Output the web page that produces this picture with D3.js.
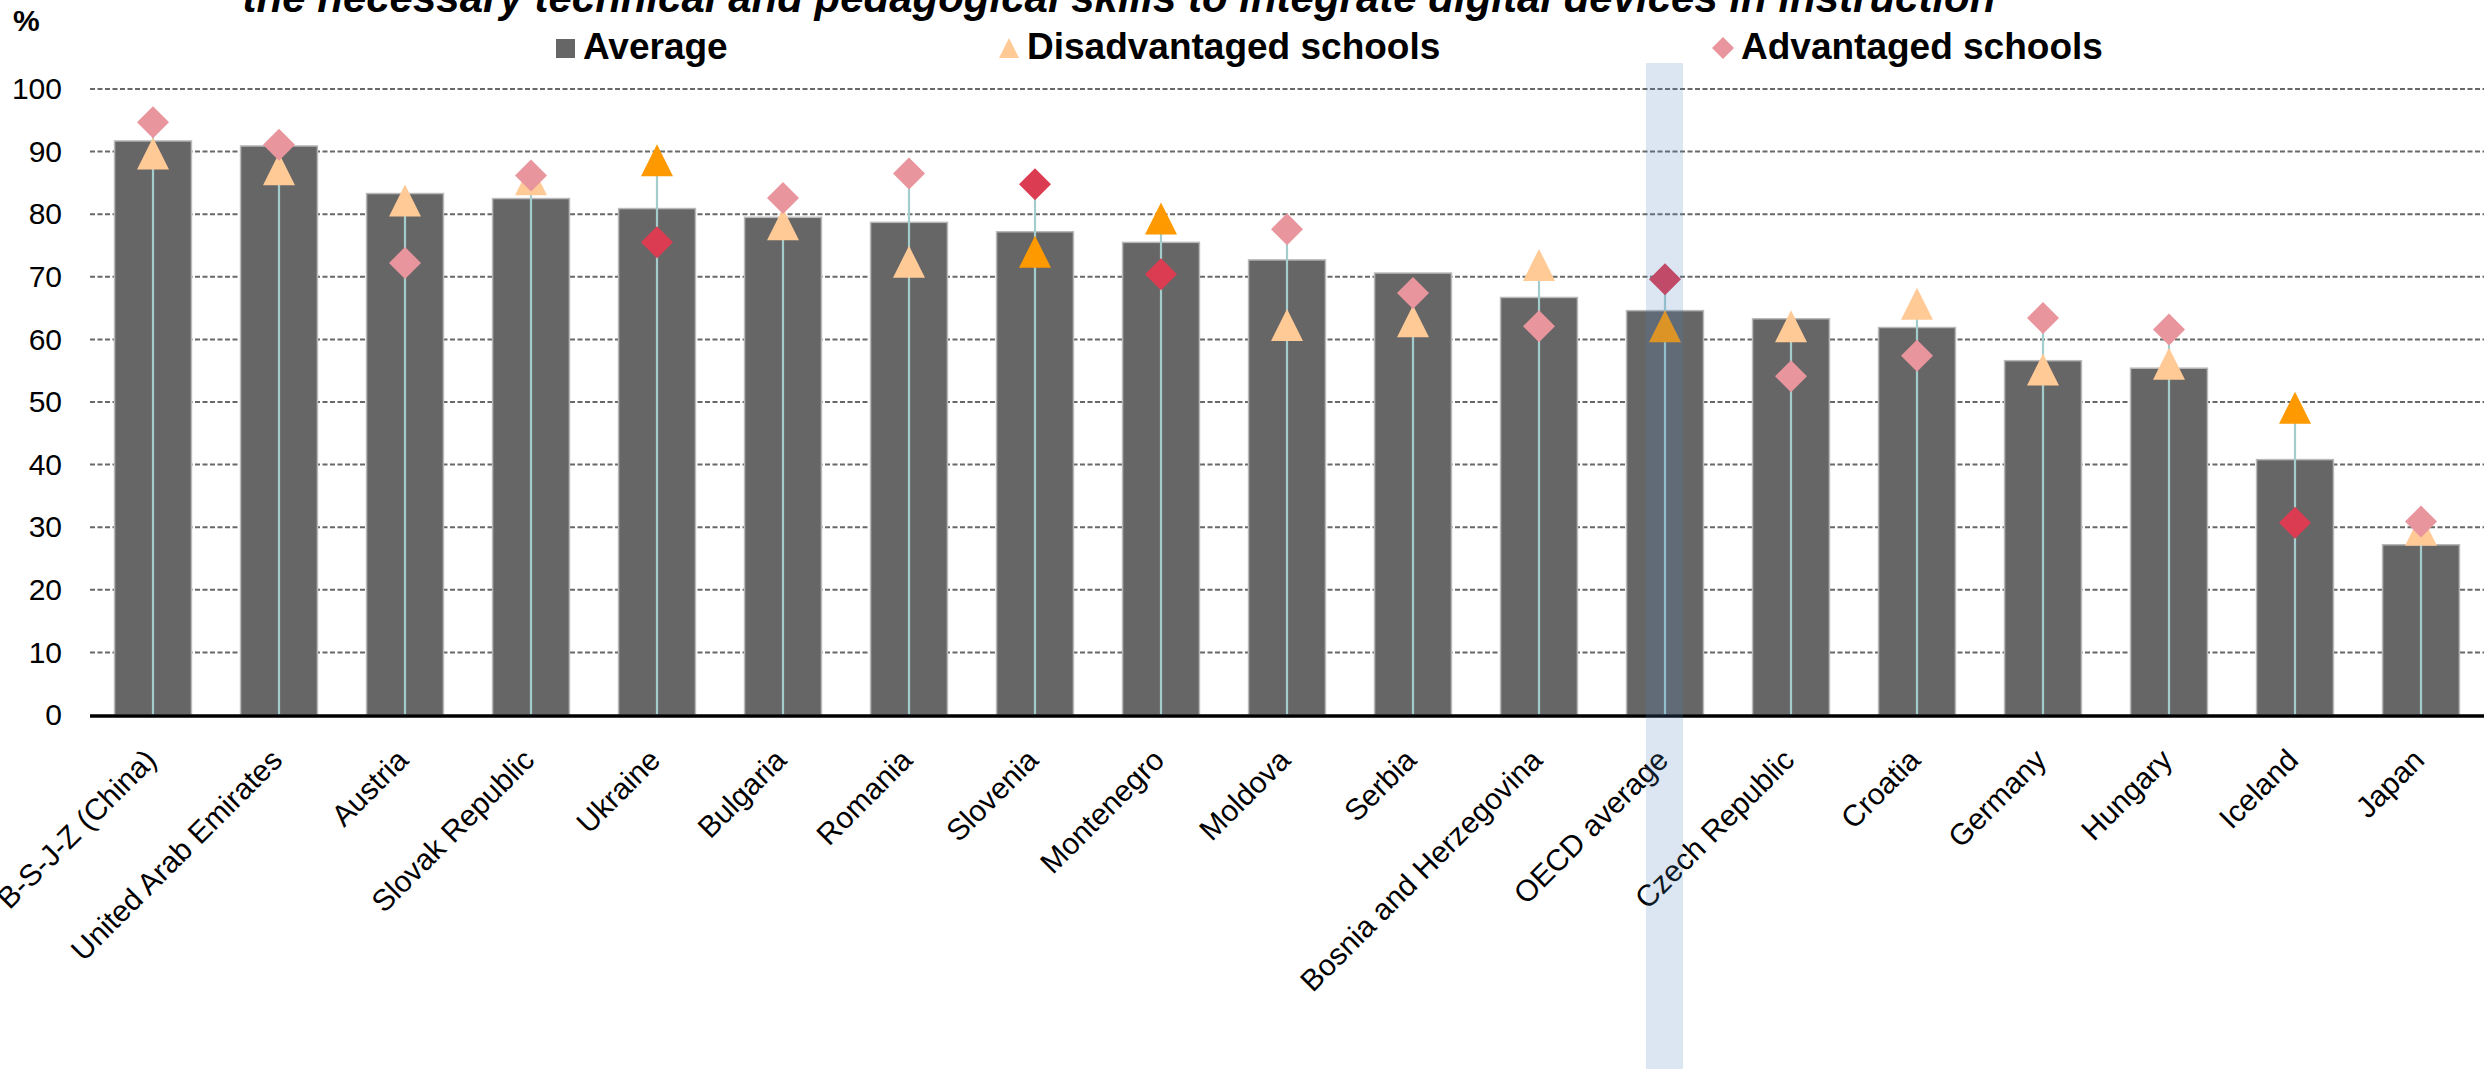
<!DOCTYPE html>
<html>
<head>
<meta charset="utf-8">
<script src="https://cdn.jsdelivr.net/npm/d3@7"></script>
<style>
  body { margin: 0; background: #fff; }
  svg { display: block; }
  text { font-family: Arial, "Liberation Sans", sans-serif; }
</style>
</head>
<body>
<div class="chart"></div>
<script>
var countries = ["B-S-J-Z (China)", "United Arab Emirates", "Austria", "Slovak Republic", "Ukraine",
  "Bulgaria", "Romania", "Slovenia", "Montenegro", "Moldova", "Serbia", "Bosnia and Herzegovina",
  "OECD average", "Czech Republic", "Croatia", "Germany", "Hungary", "Iceland", "Japan"];
var average = [91.7, 90.9, 83.3, 82.5, 80.9, 79.5, 78.7, 77.2, 75.5, 72.7, 70.6, 66.7, 64.6, 63.3, 61.9, 56.6, 55.4, 40.8, 27.2];
var disadvantaged = [89.7, 87.2, 82.2, 85.6, 88.6, 78.4, 72.4, 74.0, 79.3, 62.3, 62.9, 71.9, 62.1, 62.1, 65.7, 55.2, 56.1, 49.1, 29.6];
var advantaged = [94.7, 91.1, 72.2, 86.2, 75.5, 82.6, 86.5, 84.8, 70.4, 77.6, 67.4, 62.1, 69.6, 54.1, 57.4, 63.4, 61.6, 30.7, 30.9];
// difference between advantaged and disadvantaged is significant
var significant = [false, false, false, false, true, false, false, true, true, false, false, false, true, false, false, false, false, true, false];
var yTicks = [0, 10, 20, 30, 40, 50, 60, 70, 80, 90, 100];
var legendLabels = ["Average", "Disadvantaged schools", "Advantaged schools"];
var highlight = "OECD average";

var W = 2486, H = 1069;
var margin = { top: 89, right: 2, bottom: 354, left: 90 };
var width = W - margin.left - margin.right;
var height = H - margin.top - margin.bottom;

var svg = d3.select('.chart')
  .append('svg')
  .attr('width', W)
  .attr('height', H);

var g = svg.append('g')
  .attr('transform', `translate(${margin.left},${margin.top})`);

var xScale = d3.scaleBand()
  .domain(countries)
  .range([0, width])
  .paddingInner(0.39)
  .paddingOuter(0.195);

var yScale = d3.scaleLinear()
  .domain([0, 100])
  .range([height, 0]);

// dashed gridlines
g.append('g')
  .selectAll('line')
  .data(yTicks.filter(d => d > 0))
  .enter().append('line')
  .attr('x1', 0).attr('x2', width)
  .attr('y1', d => yScale(d)).attr('y2', d => yScale(d))
  .style('stroke', '#656a65')
  .style('stroke-width', 2)
  .style('stroke-dasharray', '5,2.5');

// y labels
var yAxis = d3.axisLeft(yScale).tickValues(yTicks).tickSize(0).tickPadding(28);
g.append('g')
  .call(yAxis)
  .call(s => s.select('.domain').remove())
  .selectAll('text')
  .style('font-size', '30px')
  .style('fill', '#000')
  .style('font-family', 'Arial, "Liberation Sans", sans-serif');

var idx = countries.map((c, i) => i);

// bars
g.append('g')
  .selectAll('rect')
  .data(idx)
  .enter().append('rect')
  .attr('x', i => xScale(countries[i]))
  .attr('y', i => yScale(average[i]))
  .attr('width', xScale.bandwidth())
  .attr('height', i => yScale(0) - yScale(average[i]))
  .style('fill', '#666666')
  .style('stroke', '#b8b8b8')
  .style('stroke-width', 1.5);

var cx = i => xScale(countries[i]) + xScale.bandwidth() / 2;

// thin lines from zero up to the higher marker
g.append('g')
  .selectAll('line')
  .data(idx)
  .enter().append('line')
  .attr('x1', cx).attr('x2', cx)
  .attr('y1', yScale(0))
  .attr('y2', i => yScale(Math.max(disadvantaged[i], advantaged[i])))
  .style('stroke', '#a3cccd')
  .style('stroke-width', 2.2);

// x axis
var xAxis = d3.axisBottom(xScale).tickSize(0).tickPadding(0);
var xg = g.append('g')
  .attr('transform', 'translate(0,' + height + ')')
  .call(xAxis);
xg.select('.domain').remove();
xg.selectAll('text')
  .attr('text-anchor', 'end')
  .attr('dy', null)
  .attr('y', null)
  .attr('transform', 'translate(5,47) rotate(-45)')
  .style('font-size', '30px')
  .style('fill', '#000')
  .style('font-family', 'Arial, "Liberation Sans", sans-serif');

g.append('line')
  .attr('x1', 0).attr('x2', width)
  .attr('y1', height + 1).attr('y2', height + 1)
  .style('stroke', '#000')
  .style('stroke-width', 3.5);

// markers (centred on their bounding box)
var tri = 'M0,-16L16,16L-16,16Z';
var dia = 'M0,-16L16,0L0,16L-16,0Z';

g.append('g')
  .selectAll('path')
  .data(idx)
  .enter().append('path')
  .attr('d', tri)
  .attr('transform', i => `translate(${cx(i)},${yScale(disadvantaged[i])})`)
  .style('fill', i => significant[i] ? '#ff9900' : '#ffca96');

g.append('g')
  .selectAll('path')
  .data(idx)
  .enter().append('path')
  .attr('d', dia)
  .attr('transform', i => `translate(${cx(i)},${yScale(advantaged[i])})`)
  .style('fill', i => significant[i] ? '#dc3c52' : '#e9959d');

// OECD highlight band (on top, translucent)
var hx = xScale(highlight) + xScale.bandwidth() / 2;
svg.append('rect')
  .attr('x', margin.left + hx - 19)
  .attr('y', 63)
  .attr('width', 37)
  .attr('height', H - 63)
  .style('fill', 'rgba(79,129,189,0.2)');

// title (cut at top)
svg.append('text')
  .attr('x', 1119).attr('y', 12)
  .attr('text-anchor', 'middle')
  .style('font-size', '42px')
  .style('font-weight', 'bold')
  .style('font-style', 'italic')
  .text('the necessary technical and pedagogical skills to integrate digital devices in instruction');

svg.append('text')
  .attr('x', 13).attr('y', 31)
  .style('font-size', '30px')
  .style('font-weight', 'bold')
  .text('%');

// legend
var lg = svg.append('g');
var legendX = [556, 999, 1712];
lg.append('rect').attr('x', legendX[0]).attr('y', 39).attr('width', 19).attr('height', 19).style('fill', '#666666');
lg.append('path').attr('d', 'M10,0L20,20L0,20Z').attr('transform', `translate(${legendX[1]},38)`).style('fill', '#ffca96');
lg.append('path').attr('d', 'M11,0L22,11L11,22L0,11Z').attr('transform', `translate(${legendX[2]},37)`).style('fill', '#e9959d');
lg.selectAll('text')
  .data(legendLabels)
  .enter().append('text')
  .attr('x', (d, i) => legendX[i] + [27, 28, 29][i])
  .attr('y', 59)
  .style('font-size', '37px')
  .style('font-weight', 'bold')
  .text(d => d);
</script>
</body>
</html>
